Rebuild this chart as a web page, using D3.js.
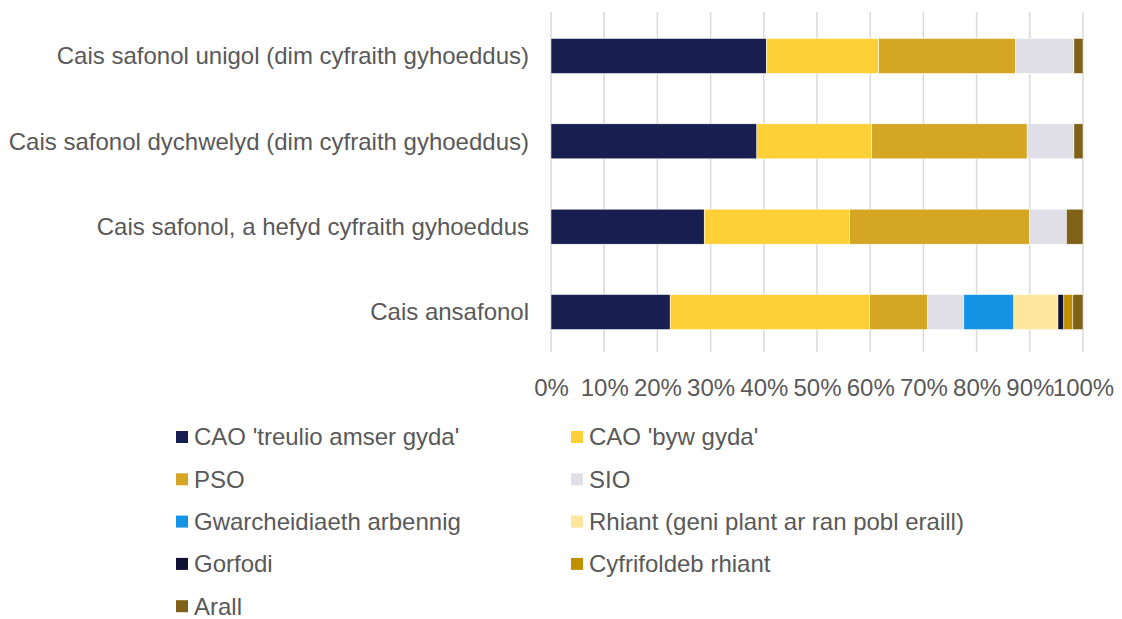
<!DOCTYPE html>
<html>
<head>
<meta charset="utf-8">
<script src="https://cdn.jsdelivr.net/npm/d3@7"></script>
<style>
  body { margin: 0; background: #fff; }
  svg text { font-family: "Liberation Sans", Arial, sans-serif; fill: #595959; }
</style>
</head>
<body>
<div id="chart"></div>
<script>
// categories (top to bottom)
const categories = [
    "Cais safonol unigol (dim cyfraith gyhoeddus)",
    "Cais safonol dychwelyd (dim cyfraith gyhoeddus)",
    "Cais safonol, a hefyd cyfraith gyhoeddus",
    "Cais ansafonol"
];
const seriesNames = [
    "CAO 'treulio amser gyda'", "CAO 'byw gyda'", "PSO", "SIO",
    "Gwarcheidiaeth arbennig", "Rhiant (geni plant ar ran pobl eraill)",
    "Gorfodi", "Cyfrifoldeb rhiant", "Arall"
];
const seriesColors = ["#181E50", "#FDD037", "#D4A624", "#E0DFE8", "#1593E5", "#FEE79C", "#0F1234", "#BF9000", "#7F6117"];
// values per series, one per category (%)
const caoTreulio = [40.5, 38.7, 28.8, 22.4];
const caoByw     = [21.1, 21.6, 27.3, 37.5];
const pso        = [25.7, 29.2, 33.8, 10.9];
const sio        = [11.0, 8.8, 7.0, 6.8];
const gwarch     = [0, 0, 0, 9.4];
const rhiant     = [0, 0, 0, 8.3];
const gorfodi    = [0, 0, 0, 1.1];
const cyfrif     = [0, 0, 0, 1.7];
const arall      = [1.7, 1.7, 3.1, 1.9];
const xTicks = [0, 10, 20, 30, 40, 50, 60, 70, 80, 90, 100];

const seriesValues = [caoTreulio, caoByw, pso, sio, gwarch, rhiant, gorfodi, cyfrif, arall];

const W = 1122, H = 619;
const margin = { top: 12, left: 551, right: 39 };
const plotW = W - margin.left - margin.right;
const plotH = 344;
const fontSize = "24px";

const svg = d3.select("#chart").append("svg")
    .attr("width", W)
    .attr("height", H);

const g = svg.append("g").attr("transform", `translate(${margin.left},${margin.top})`);

const x = d3.scaleLinear().domain([0, 100]).range([0, plotW]);
const y = d3.scaleBand().domain(categories).range([0, plotH]).paddingInner(0.59).paddingOuter(0.31);

// gridlines
g.selectAll(".grid")
    .data(xTicks)
    .enter()
    .append("line")
        .attr("class", "grid")
        .attr("x1", d => x(d))
        .attr("x2", d => x(d))
        .attr("y1", 0)
        .attr("y2", plotH - 4)
        .style("stroke", "#D9D9D9")
        .style("stroke-width", 1.5);

// stacked data
const table = categories.map((c, i) => {
    const row = { cat: c };
    seriesNames.forEach((s, j) => row[s] = seriesValues[j][i]);
    return row;
});
const stacked = d3.stack().keys(seriesNames)(table);

g.selectAll(".layer")
    .data(stacked)
    .enter()
    .append("g")
        .attr("class", "layer")
        .style("fill", (d, i) => seriesColors[i])
    .selectAll("rect")
    .data(d => d.filter(p => p[1] - p[0] > 0))
    .enter()
    .append("rect")
        .attr("x", d => x(d[0]))
        .attr("y", d => y(d.data.cat))
        .attr("width", d => x(d[1]) - x(d[0]))
        .attr("height", y.bandwidth())
        .style("stroke", "#fff")
        .style("stroke-width", 0.5);

// category labels
svg.append("g")
    .attr("transform", `translate(${margin.left - 22},${margin.top})`)
    .call(d3.axisLeft(y).tickSize(0))
    .call(a => a.select(".domain").remove())
    .call(a => a.selectAll("text")
        .attr("x", 0)
        .attr("dy", "0.35em")
        .style("font-size", fontSize)
        .style("fill", "#595959"));

// x axis labels
svg.append("g")
    .attr("transform", `translate(${margin.left},${margin.top + plotH})`)
    .call(d3.axisBottom(x).tickValues(xTicks).tickFormat(d => d + "%").tickSize(0))
    .call(a => a.select(".domain").remove())
    .call(a => a.selectAll("text")
        .attr("y", 23)
        .style("font-size", fontSize)
        .style("fill", "#595959"));

// legend, two columns
const legend = svg.append("g").attr("class", "legend");
const items = legend.selectAll(".item")
    .data(seriesNames)
    .enter()
    .append("g")
        .attr("class", "item")
        .attr("transform", (d, i) => `translate(${i % 2 === 0 ? 176 : 571},${437 + Math.floor(i / 2) * 42.3})`);

items.append("rect")
    .attr("x", 0)
    .attr("y", -6)
    .attr("width", 12)
    .attr("height", 12)
    .style("fill", (d, i) => seriesColors[i]);

items.append("text")
    .attr("x", 18)
    .attr("dy", "0.35em")
    .style("font-size", fontSize)
    .text(d => d);
</script>
</body>
</html>
